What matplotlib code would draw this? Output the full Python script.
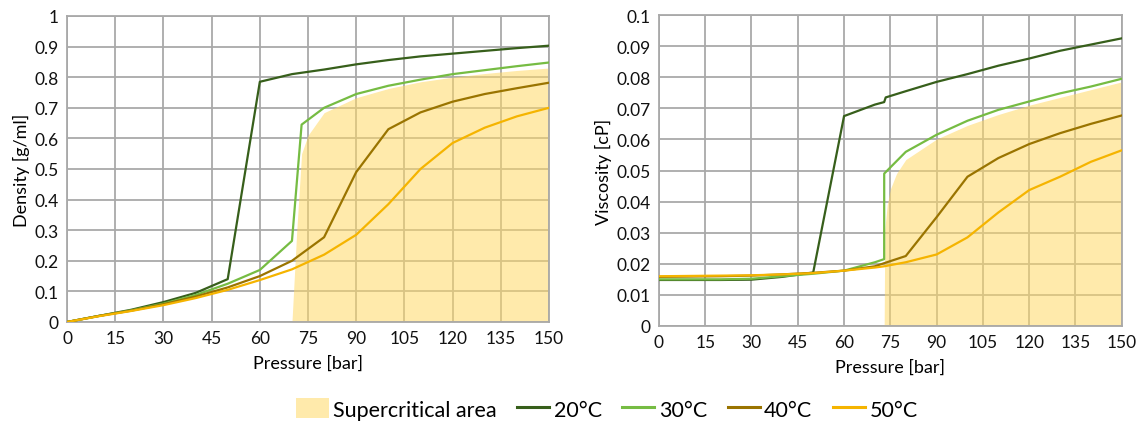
import matplotlib
matplotlib.use("Agg")
import matplotlib.pyplot as plt
from matplotlib.ticker import MultipleLocator, FuncFormatter
from matplotlib.patches import Patch
from matplotlib.lines import Line2D

plt.rcParams["font.family"] = ["Lato", "DejaVu Sans"]

# ---------------- data ----------------
temps = ["20°C", "30°C", "40°C", "50°C"]
colors = ["#375F1B", "#76BC43", "#9A7400", "#F5B400"]
fill_color = "#FFD966"

# Density [g/ml]
p_std = [0, 10, 20, 30, 40, 50, 60, 70, 80, 90, 100, 110, 120, 130, 140, 150]
dens_20 = [0, 0.02, 0.04, 0.065, 0.095, 0.14, 0.785, 0.81, 0.825, 0.842, 0.856,
           0.868, 0.877, 0.886, 0.895, 0.903]
p_30_dens = [0, 10, 20, 30, 40, 50, 60, 70, 73, 80, 90, 100, 110, 120, 130, 140, 150]
dens_30 = [0, 0.02, 0.038, 0.06, 0.088, 0.125, 0.17, 0.265, 0.645, 0.70, 0.745,
           0.772, 0.792, 0.81, 0.823, 0.836, 0.848]
dens_40 = [0, 0.02, 0.037, 0.058, 0.083, 0.113, 0.15, 0.2, 0.277, 0.49, 0.63,
           0.685, 0.72, 0.745, 0.764, 0.782]
dens_50 = [0, 0.019, 0.036, 0.055, 0.078, 0.105, 0.137, 0.172, 0.22, 0.285, 0.385,
           0.5, 0.585, 0.635, 0.672, 0.7]
p_sc_dens = [70, 71.5, 73, 75, 80, 90, 100, 110, 120, 130, 140, 150]
sc_dens = [0, 0.3, 0.55, 0.61, 0.684, 0.733, 0.763, 0.785, 0.8, 0.812, 0.822, 0.83]

# Viscosity [cP]
p_20_visc = [0, 10, 20, 30, 40, 50, 60, 70, 73, 73.5, 80, 90, 100, 110, 120, 130, 140, 150]
visc_20 = [0.0148, 0.0148, 0.0148, 0.0149, 0.0158, 0.0172, 0.0675, 0.0712, 0.072,
           0.0735, 0.0755, 0.0785, 0.081, 0.0837, 0.086, 0.0885, 0.0905, 0.0925]
p_30_visc = [0, 10, 20, 30, 40, 50, 60, 70, 73, 73.01, 80, 90, 100, 110, 120, 130, 140, 150]
visc_30 = [0.015, 0.015, 0.015, 0.0152, 0.016, 0.0168, 0.0178, 0.0205, 0.0215,
           0.049, 0.056, 0.0615, 0.066, 0.0695, 0.0722, 0.0748, 0.077, 0.0795]
p_40_visc = [0, 10, 20, 30, 40, 50, 60, 70, 73, 80, 90, 100, 110, 120, 130, 140, 150]
visc_40 = [0.0158, 0.0159, 0.016, 0.0162, 0.0166, 0.0171, 0.0178, 0.0192, 0.0202,
           0.0225, 0.035, 0.048, 0.054, 0.0585, 0.062, 0.065, 0.0677]
p_50_visc = [0, 10, 20, 30, 40, 50, 60, 70, 73, 80, 90, 100, 110, 120, 130, 140, 150]
visc_50 = [0.016, 0.0161, 0.0162, 0.0163, 0.0166, 0.017, 0.0178, 0.0188, 0.0192,
           0.0205, 0.023, 0.0285, 0.0365, 0.0437, 0.048, 0.0528, 0.0565]
p_sc_visc = [73, 73.2, 74, 75, 77, 80, 90, 100, 110, 120, 130, 140, 150]
sc_visc = [0, 0.031, 0.039, 0.044, 0.049, 0.0535, 0.0601, 0.0645, 0.068, 0.071,
           0.0735, 0.076, 0.0785]

x_ticks_step = 15
grid_color = "#A9A9A9"
tick_fs = 12.5
label_fs = 13


def style_axes(ax, ymax, ystep, ylabel):
    ax.set_xlim(0, 150)
    ax.set_ylim(0, ymax)
    ax.xaxis.set_major_locator(MultipleLocator(x_ticks_step))
    ax.yaxis.set_major_locator(MultipleLocator(ystep))
    ax.yaxis.set_major_formatter(FuncFormatter(lambda v, _: f"{round(v, 4):g}"))
    ax.grid(True, color=grid_color, linewidth=1.3)
    ax.set_axisbelow(True)
    for s in ax.spines.values():
        s.set_color(grid_color)
        s.set_linewidth(1.3)
    ax.tick_params(length=0, labelsize=tick_fs, pad=6, labelcolor="#111111")
    ax.set_xlabel("Pressure [bar]", fontsize=label_fs, labelpad=6)
    ax.set_ylabel(ylabel, fontsize=label_fs, labelpad=3)


fig = plt.figure(figsize=(11.4, 4.27), dpi=100)
ax1 = fig.add_axes([0.0588, 0.2436, 0.4228, 0.7166])
ax2 = fig.add_axes([0.578, 0.2342, 0.406, 0.7283])

# Density panel
ax1.fill_between(p_sc_dens, sc_dens, 0, color=fill_color, alpha=0.55,
                 linewidth=0, zorder=1.5)
ax1.plot(p_std, dens_20, color=colors[0], lw=1.6, zorder=3)
ax1.plot(p_30_dens, dens_30, color=colors[1], lw=1.6, zorder=3)
ax1.plot(p_std, dens_40, color=colors[2], lw=1.6, zorder=3)
ax1.plot(p_std, dens_50, color=colors[3], lw=1.6, zorder=3)
style_axes(ax1, 1.0, 0.1, "Density [g/ml]")

# Viscosity panel
ax2.fill_between(p_sc_visc, sc_visc, 0, color=fill_color, alpha=0.55,
                 linewidth=0, zorder=1.5)
ax2.plot(p_20_visc, visc_20, color=colors[0], lw=1.6, zorder=3)
ax2.plot(p_30_visc, visc_30, color=colors[1], lw=1.6, zorder=3)
ax2.plot(p_40_visc, visc_40, color=colors[2], lw=1.6, zorder=3)
ax2.plot(p_50_visc, visc_50, color=colors[3], lw=1.6, zorder=3)
style_axes(ax2, 0.1, 0.01, "Viscosity [cP]")

handles = [Patch(facecolor=fill_color, alpha=0.55, edgecolor="none")]
handles += [Line2D([], [], color=c, lw=2.2) for c in colors]
labels = ["Supercritical area"] + temps
fig.legend(handles, labels, loc="center", bbox_to_anchor=(607 / 1140, 1 - 410 / 427),
           ncol=5, frameon=False, fontsize=15.5, handlelength=1.5,
           handleheight=1.0, handletextpad=0.2, columnspacing=0.95)

fig.savefig("out.png", dpi=100)
